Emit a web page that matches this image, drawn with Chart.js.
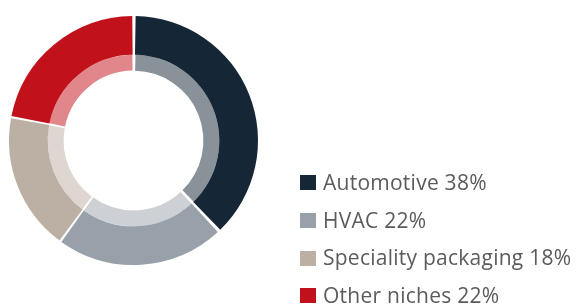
<!DOCTYPE html>
<html>
<head>
<meta charset="utf-8">
<script src="https://cdn.jsdelivr.net/npm/chart.js@4"></script>
<style>
  html, body { margin: 0; padding: 0; background: #ffffff; }
  #wrap { position: relative; width: 576px; height: 307px; }
  canvas { position: absolute; left: 0; top: 0; }
  #legend { position: absolute; left: 300px; top: 164px; font-family: "Open Sans", "Noto Sans", sans-serif; font-size: 21px; letter-spacing: 0.25px; color: #5a5b5d; }
  .item { display: flex; align-items: center; height: 37.7px; line-height: 37.7px; white-space: nowrap; }
  .box { width: 16px; height: 15px; margin-right: 7px; flex: none; }
</style>
</head>
<body>
<div id="wrap">
  <canvas id="c" width="576" height="307"></canvas>
  <div id="legend"></div>
</div>
<script>
const categories = ["Automotive", "HVAC", "Speciality packaging", "Other niches"];
const shares = [38, 22, 18, 22];
const outerColors = ["#152736", "#98a0aa", "#bcb0a5", "#c1121c"];
const innerColors = ["#8a9299", "#cdd1d6", "#ddd6d1", "#e1868b"];

const legend = document.getElementById('legend');
categories.forEach((name, i) => {
  const row = document.createElement('div');
  row.className = 'item';
  const b = document.createElement('span');
  b.className = 'box';
  b.style.background = outerColors[i];
  const t = document.createElement('span');
  t.textContent = name + ' ' + shares[i] + '%';
  row.appendChild(b); row.appendChild(t);
  legend.appendChild(row);
});

new Chart(document.getElementById('c'), {
  type: 'doughnut',
  data: {
    labels: categories,
    datasets: [
      { data: shares, backgroundColor: outerColors, borderColor: '#ffffff', borderWidth: 0, spacing: 3, weight: 39 },
      { data: shares, backgroundColor: innerColors, borderColor: '#ffffff', borderWidth: 0, spacing: 3, weight: 16 }
    ]
  },
  options: {
    responsive: false,
    animation: false,
    cutout: '55.6%',
    layout: { padding: { left: 9, right: 318, top: 16, bottom: 42 } },
    plugins: { legend: { display: false }, tooltip: { enabled: false } }
  }
});
</script>
</body>
</html>
